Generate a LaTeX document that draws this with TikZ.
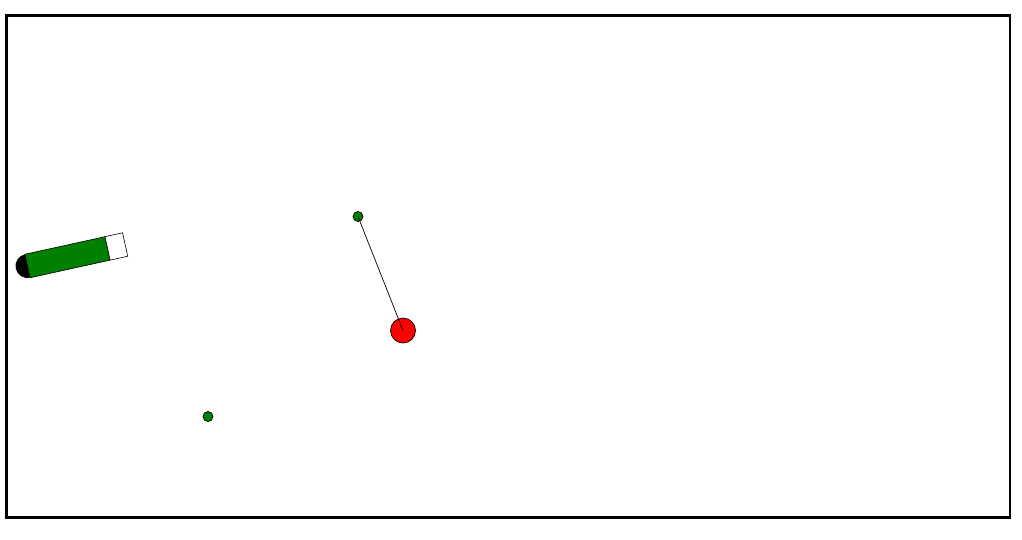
\documentclass[tikz,border=0pt]{standalone}
\definecolor{ggreen}{RGB}{0,128,0}
\definecolor{rred}{RGB}{255,0,0}
\tikzset{
  dot/.style={circle, draw=black, fill=ggreen, line width=0.7pt, minimum size=10pt, inner sep=0pt},
  ball/.style={circle, draw=black, fill=rred, line width=0.7pt, minimum size=25pt, inner sep=0pt},
  frame/.style={draw=black, line width=2.6pt},
  link/.style={draw=black, line width=0.7pt}
}
\begin{document}
\begin{tikzpicture}[x=1pt,y=-1pt]
\useasboundingbox (0,0) rectangle (1022,539);
\draw[frame] (6.2,15.2) rectangle (1009.8,517.2);
% paddle
\begin{scope}[shift={(27.5,266)}, rotate=12.4]
  \fill[black] (0,0) circle[radius=12];
  \draw[fill=ggreen, line width=0.6pt] (0,-12) rectangle (82,12);
  \draw[fill=white, line width=0.6pt] (82,-12) rectangle (100,12);
\end{scope}
% dots and ball
\node[dot] (g1) at (358,216.5) {};
\node[dot] (g2) at (208,416.5) {};
\node[ball] (r) at (403,330.5) {};
\draw[link] (g1.center) -- (r.center);
\end{tikzpicture}
\end{document}
